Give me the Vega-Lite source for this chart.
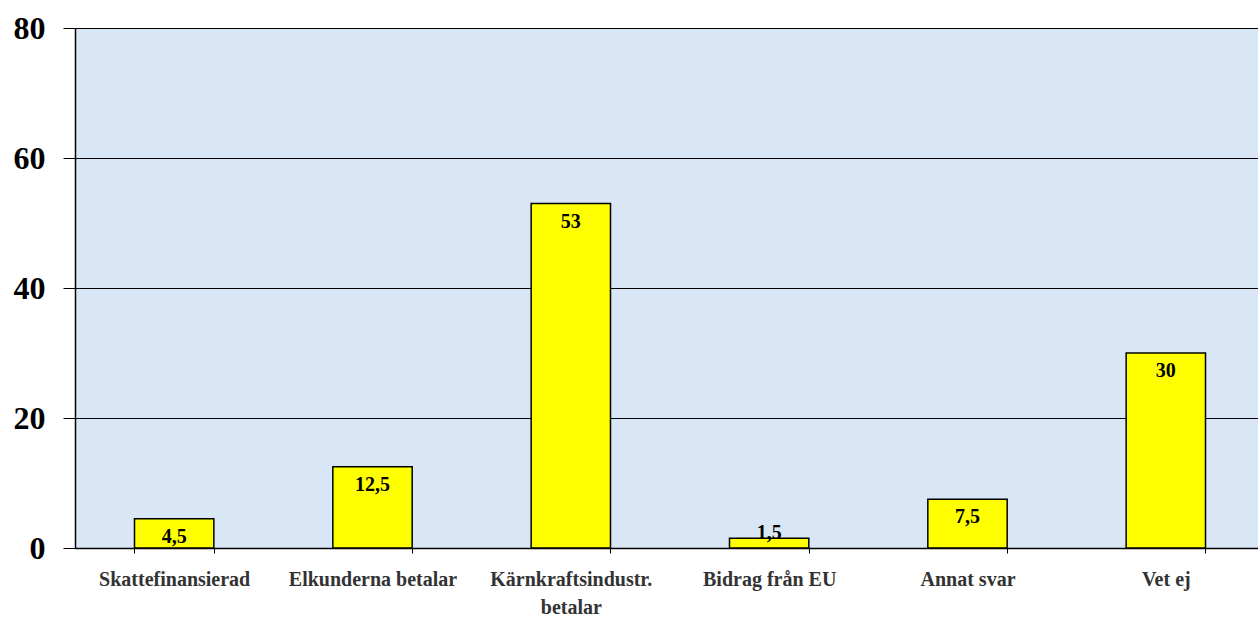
{
  "$schema": "https://vega.github.io/schema/vega-lite/v6.json",
  "width": 1190,
  "height": 520,
  "autosize": {"type": "none"},
  "padding": {"left": 75, "top": 28, "right": 0, "bottom": 70},
  "background": "white",
  "config": {
    "view": {"fill": "#d9e6f5", "stroke": null},
    "font": "Liberation Serif"
  },
  "data": {
    "values": [
      {"kategori": "Skattefinansierad", "andel": 4.5, "etikett": "4,5"},
      {"kategori": "Elkunderna betalar", "andel": 12.5, "etikett": "12,5"},
      {"kategori": "Kärnkraftsindustr. betalar", "andel": 53, "etikett": "53"},
      {"kategori": "Bidrag från EU", "andel": 1.5, "etikett": "1,5"},
      {"kategori": "Annat svar", "andel": 7.5, "etikett": "7,5"},
      {"kategori": "Vet ej", "andel": 30, "etikett": "30"}
    ]
  },
  "encoding": {
    "x": {
      "field": "kategori",
      "type": "nominal",
      "sort": null,
      "scale": {"paddingInner": 0.6, "paddingOuter": 0.3},
      "axis": {
        "title": null,
        "labelAngle": 0,
        "labelFont": "Liberation Serif",
        "labelFontSize": 20,
        "labelFontWeight": "bold",
        "labelColor": "#333333",
        "labelPadding": 16,
        "labelLimit": 0,
        "labelExpr": "datum.label == 'Kärnkraftsindustr. betalar' ? ['Kärnkraftsindustr.', 'betalar'] : datum.label",
        "labelLineHeight": 28,
        "tickBand": "extent",
        "tickSize": 5,
        "tickColor": "#000000",
        "domainColor": "#000000",
        "domainWidth": 1.5
      }
    },
    "y": {
      "field": "andel",
      "type": "quantitative",
      "scale": {"domain": [0, 80], "nice": false},
      "axis": {
        "title": null,
        "values": [0, 20, 40, 60, 80],
        "labelFont": "Liberation Serif",
        "labelFontSize": 32,
        "labelFontWeight": "bold",
        "labelColor": "#000000",
        "labelPadding": 18,
        "tickSize": 12,
        "tickColor": "#000000",
        "domainColor": "#000000",
        "domainWidth": 1.5,
        "grid": true,
        "gridColor": "#000000",
        "gridOpacity": 1,
        "gridWidth": 1
      }
    }
  },
  "layer": [
    {
      "mark": {"type": "bar", "fill": "#ffff00", "stroke": "#000000", "strokeWidth": 1.5}
    },
    {
      "transform": [{"filter": "datum.andel >= 3"}],
      "mark": {"type": "text", "baseline": "top", "dy": 8, "fontSize": 20, "fontWeight": "bold", "font": "Liberation Serif", "color": "#000000"},
      "encoding": {"text": {"field": "etikett"}}
    },
    {
      "transform": [{"filter": "datum.andel < 3"}],
      "mark": {"type": "text", "baseline": "middle", "dy": -5, "fontSize": 20, "fontWeight": "bold", "font": "Liberation Serif", "color": "#000000"},
      "encoding": {"text": {"field": "etikett"}}
    }
  ]
}
